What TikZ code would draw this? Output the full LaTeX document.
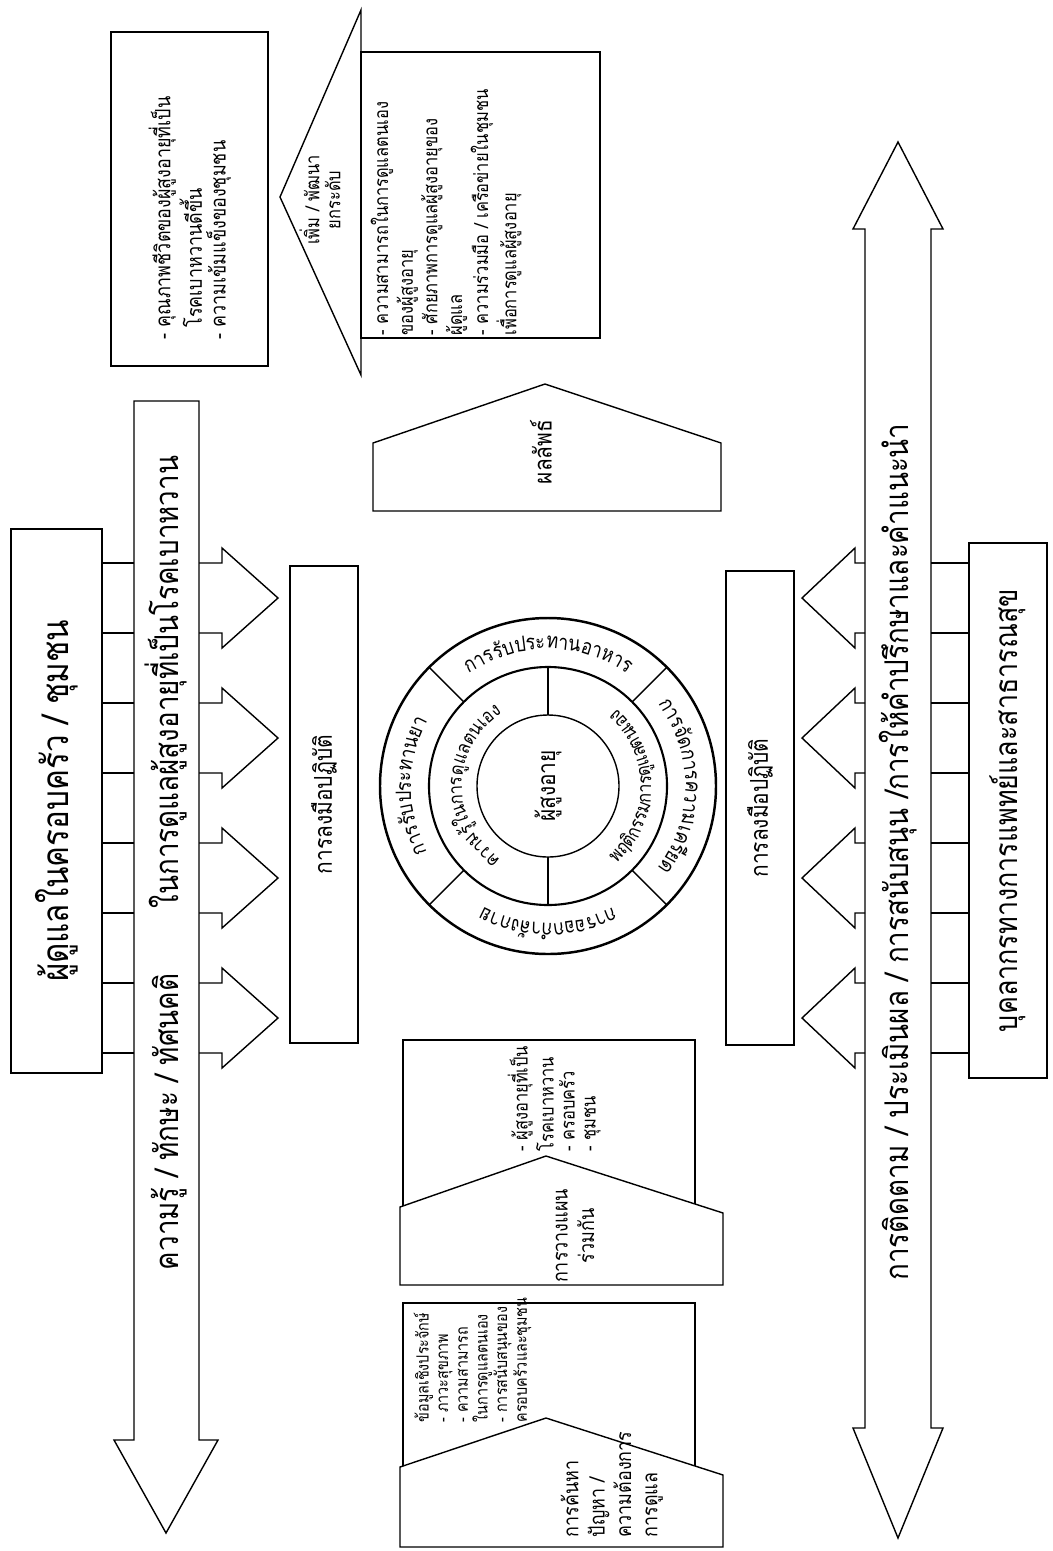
\documentclass[tikz,border=0pt]{standalone}
\usepackage{fontspec}
\newfontfamily\thaifont[Script=Thai]{Loma}
\newfontfamily\thainarrow[Script=Thai,FakeStretch=0.85]{Loma}
\usetikzlibrary{calc,decorations.text}

\newcommand{\ringfont}{\thainarrow\fontsize{6}{7}\selectfont}
\newcommand{\innfont}{\thainarrow\fontsize{5.5}{6.5}\selectfont}

\begin{document}
\begin{tikzpicture}[x=0.1mm,y=-0.1mm,line width=0.4pt,
  box/.style={draw,rectangle,inner sep=0pt},
  big/.style={rotate=90,font=\thainarrow\fontsize{#1}{12}\selectfont},
  big/.default=9.3,
  mid/.style={rotate=90,font=\thainarrow\fontsize{7}{8}\selectfont,align=center},
  small/.style={rotate=90,font=\thainarrow\fontsize{5.5}{6}\selectfont,align=left,inner sep=0pt}]
  \useasboundingbox (0,0) rectangle (1053,1551);

  % side boxes
  \node[box,minimum width=9.1mm,minimum height=54.4mm] (carer) at (56.5,801) {};
  \node[big=10.5] (carertxt) at (carer) {ผู้ดูแลในครอบครัว / ชุมชน};
  \node[box,minimum width=7.8mm,minimum height=53.5mm] (staff) at (1008,810.5) {};
  \node[big=9] (stafftxt) at (staff) {บุคลากรทางการแพทย์และสาธารณสุข};
  \node[box,minimum width=6.8mm,minimum height=47.7mm] (act1) at (324,804.5) {};
  \node[mid] (act1txt) at (act1) {การลงมือปฏิบัติ};
  \node[box,minimum width=6.8mm,minimum height=47.4mm] (act2) at (760,808) {};
  \node[mid] (act2txt) at (act2) {การลงมือปฏิบัติ};

  % long arrows
  \coordinate (kw) at (134,401);
  \coordinate (ke) at (199,401);
  \coordinate (sw) at (865,229);
  \coordinate (se) at (931,229);
  \draw (kw) -- (ke) -- (199,1440) -- (218,1440) -- (166,1533) -- (114,1440) -- (134,1440) -- cycle;
  \draw (sw) -- (853,229) -- (898,142) -- (943,229) -- (se) -- (931,1428) -- (943,1428)
        -- (898,1538) -- (853,1428) -- (865,1428) -- cycle;
  \node[big] (know) at (166,863) {ความรู้ / ทักษะ / ทัศนคติ\quad\quad ในการดูแลผู้สูงอายุที่เป็นโรคเบาหวาน};
  \node[big] (follow) at (898,852) {การติดตาม / ประเมินผล / การสนับสนุน /การให้คำปรึกษาและคำแนะนำ};

  % links and small arrows
  \foreach \a in {563,703,843,983}{
    \draw (carer.east |- 0,\a) -- (kw |- 0,\a);
    \draw (carer.east |- 0,\a+70) -- (kw |- 0,\a+70);
    \draw (staff.west |- 0,\a) -- (se |- 0,\a);
    \draw (staff.west |- 0,\a+70) -- (se |- 0,\a+70);
    \draw (ke |- 0,\a) -- (222,\a) -- (222,\a-15) -- (278,\a+35) -- (222,\a+85) -- (222,\a+70) -- (ke |- 0,\a+70);
    \draw (sw |- 0,\a) -- (855,\a) -- (855,\a-15) -- (802,\a+35) -- (855,\a+85) -- (855,\a+70) -- (sw |- 0,\a+70);
  }

  % outcome
  \node[box,minimum width=15.7mm,minimum height=33.4mm] (qol) at (189.5,199) {};
  \node[small,font=\thainarrow\fontsize{6}{6.8}\selectfont] (qoltxt) at (190,218) {- คุณภาพชีวิตของผู้สูงอายุที่เป็น\\\ \ โรคเบาหวานดีขึ้น\\- ความเข้มแข็งของชุมชน};
  \draw (361,10) -- (280,197) -- (361,375) -- cycle;
  \draw (361,52) rectangle (600,338);
  \node[small,align=center] (up) at (320,200) {เพิ่ม / พัฒนา\\ยกระดับ};
  \node[small,anchor=north west] (gain) at (370,336) {- ความสามารถในการดูแลตนเอง\\ของผู้สูงอายุ\\- ศักยภาพการดูแลผู้สูงอายุของ\\ผู้ดูแล\\- ความร่วมมือ / เครือข่ายในชุมชน\\เพื่อการดูแลผู้สูงอายุ};
  \draw (373,511) -- (373,443) -- (545,384) -- (721,443) -- (721,511) -- cycle;
  \node[mid] (res) at (541,452) {ผลลัพธ์};

  % circle
  \begin{scope}[shift={(548,786)},y=0.1mm]
    \draw[line width=0.7pt] (0,0) circle[radius=16.8mm];
    \draw[line width=0.6pt] (0,0) circle[radius=11.9mm];
    \draw (0,0) circle[radius=7.1mm];
    \foreach \ang in {45,135,225,315}
      \draw (\ang:11.9mm) -- (\ang:16.8mm);
    \foreach \ang in {90,270}
      \draw (\ang:7.1mm) -- (\ang:11.9mm);
    \node[mid] (elder) at (0,0) {ผู้สูงอายุ};
    \path[decorate,decoration={text along path,text align=center,
      text={|\ringfont|{การ}{รับ}{ประ}{ทาน}{อา}{หาร}}}]
      (132:13.7mm) arc[start angle=132,end angle=48,radius=13.7mm];
    \path[decorate,decoration={text along path,text align=center,
      text={|\ringfont|{การ}{จัด}{การ}{ความ}{เครียด}}}]
      (44:13.7mm) arc[start angle=44,end angle=-44,radius=13.7mm];
    \path[decorate,decoration={text along path,text align=center,
      text={|\ringfont|{การ}{ออก}{กำ}{ลัง}{กาย}}}]
      (-48:13.7mm) arc[start angle=-48,end angle=-132,radius=13.7mm];
    \path[decorate,decoration={text along path,text align=center,
      text={|\ringfont|{การ}{รับ}{ประ}{ทาน}{ยา}}}]
      (222:13.7mm) arc[start angle=222,end angle=138,radius=13.7mm];
    \path[decorate,decoration={text along path,text align=center,
      text={|\innfont|{ความ}{รู้}{ใน}{การ}{ดู}{แล}{ตน}{เอง}}}]
      (255:8.6mm) arc[start angle=255,end angle=105,radius=8.6mm];
    \path[decorate,decoration={text along path,text align=center,
      text={|\innfont|{พฤ}{ติ}{กรรม}{การ}{ดู}{แล}{ตน}{เอง}}}]
      (-72:10.3mm) arc[start angle=-72,end angle=72,radius=10.3mm];
  \end{scope}

  % planning
  \draw (403,1040) rectangle (695,1230);
  \node[small,anchor=north west] (who) at (507,1152) {- ผู้สูงอายุที่เป็น\\โรคเบาหวาน\\- ครอบครัว\\- ชุมชน};
  \draw[fill=white] (400,1285) -- (400,1207) -- (546,1156) -- (723,1213) -- (723,1285) -- cycle;
  \node[mid,font=\thainarrow\fontsize{6}{7.5}\selectfont] (plan) at (575,1236) {การวางแผน\\ร่วมกัน};

  % assessment
  \draw (403,1303) rectangle (695,1480);
  \node[small,font=\thainarrow\fontsize{4.8}{5.6}\selectfont,anchor=north west] (data) at (413,1423) {ข้อมูลเชิงประจักษ์\\- ภาวะสุขภาพ\\- ความสามารถ\\ในการดูแลตนเอง\\- การสนับสนุนของ\\ครอบครัวและชุมชน};
  \draw[fill=white] (400,1547) -- (400,1467) -- (546,1418) -- (723,1475) -- (723,1547) -- cycle;
  \node[mid,font=\thainarrow\fontsize{6}{7.5}\selectfont,anchor=north west,align=left,inner sep=0pt] (find) at (560,1538) {การค้นหา\\ปัญหา /\\ความต้องการ\\การดูแล};
\end{tikzpicture}
\end{document}
